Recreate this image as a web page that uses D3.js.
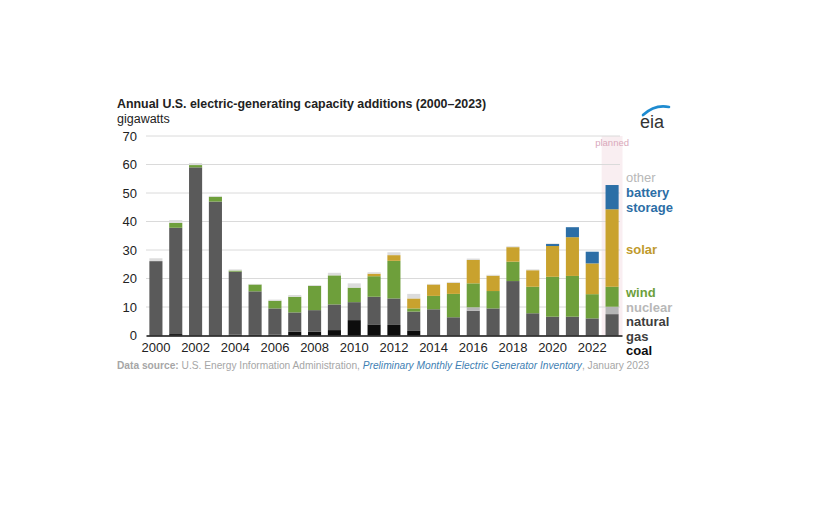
<!DOCTYPE html>
<html>
<head>
<meta charset="utf-8">
<script src="https://cdn.jsdelivr.net/npm/d3@7"></script>
<style>
  body { margin: 0; background: #fff; }
  svg { display: block; font-family: "Liberation Sans", Arial, sans-serif; }
</style>
</head>
<body>
<svg id="chart" width="837" height="531"></svg>
<script>
  // capacity additions by year, gigawatts
  var years = d3.range(2000, 2024);
  var coal    = [0.1, 0.5, 0.1, 0.1, 0.3, 0.2, 0.3, 1.3, 1.4, 1.9, 5.4, 3.9, 3.7, 1.6, 0.1, 0, 0, 0, 0, 0, 0, 0, 0, 0];
  var gas     = [26.0, 37.3, 58.9, 46.9, 22.1, 15.3, 9.2, 6.8, 7.5, 9.0, 6.3, 9.7, 9.3, 6.8, 9.1, 6.4, 8.7, 9.5, 19.1, 7.8, 6.6, 6.6, 6.0, 7.5];
  var nuclear = [0, 0, 0, 0, 0, 0, 0, 0, 0, 0, 0, 0, 0, 0, 0, 0, 1.2, 0, 0, 0, 0, 0, 0, 2.6];
  var wind    = [0, 1.7, 0.8, 1.7, 0.4, 2.4, 2.7, 5.5, 8.5, 10.2, 5.1, 7.2, 13.2, 1.1, 4.7, 8.2, 8.4, 6.1, 6.8, 9.3, 14.0, 14.3, 8.5, 7.0];
  var solar   = [0, 0, 0, 0, 0, 0, 0, 0, 0, 0, 0, 0.9, 2.0, 3.5, 4.0, 3.9, 8.2, 5.4, 5.1, 5.8, 10.8, 13.6, 10.8, 27.2];
  var battery = [0, 0, 0, 0, 0, 0, 0, 0, 0, 0, 0, 0, 0, 0, 0, 0, 0, 0, 0, 0, 0.7, 3.5, 4.1, 8.5];
  var other   = [1.0, 1.0, 0.7, 0.3, 0.4, 0.2, 0.4, 0.6, 0.3, 0.9, 1.5, 0.5, 1.0, 1.6, 0.2, 0.3, 0.5, 0.3, 0.3, 0.3, 0.2, 0, 0, 0];

  var yTicks = [0, 10, 20, 30, 40, 50, 60, 70];
  var yearLabels = d3.range(2000, 2023, 2);

  var keys = ['coal', 'gas', 'nuclear', 'wind', 'solar', 'battery', 'other'];
  var colors = {
    coal: '#0d0d0d',
    gas: '#5a5a5a',
    nuclear: '#b5b5b5',
    wind: '#6e9f3b',
    solar: '#c9a22e',
    battery: '#2c6ea6',
    other: '#dcdcdc'
  };
  var series = { coal: coal, gas: gas, nuclear: nuclear, wind: wind, solar: solar, battery: battery, other: other };

  var rows = years.map(function (yr, i) {
    var r = { year: yr };
    keys.forEach(function (k) { r[k] = series[k][i]; });
    return r;
  });

  var svg = d3.select('#chart');

  var x = d3.scaleBand()
    .domain(years)
    .range([146, 622])
    .paddingInner(0.34)
    .paddingOuter(0.17);

  var y = d3.scaleLinear()
    .domain([0, 70])
    .range([335.5, 136]);

  // planned shading behind 2023
  var last = years[years.length - 1];
  svg.append('rect')
    .attr('x', x(last) - x.step() * 0.17 - 0.5)
    .attr('y', y(70))
    .attr('width', x.step() + 1)
    .attr('height', y(0) - y(70))
    .attr('fill', '#f9eef1');

  svg.append('text')
    .attr('x', x(last) + x.bandwidth() / 2)
    .attr('y', y(70) + 10)
    .attr('text-anchor', 'middle')
    .attr('font-size', 9.5)
    .attr('fill', '#d9a9bb')
    .text('planned');

  // gridlines
  svg.append('g')
    .selectAll('line')
    .data(yTicks.filter(function (d) { return d > 0; }))
    .enter().append('line')
    .attr('x1', 146)
    .attr('x2', 620)
    .attr('y1', function (d) { return y(d); })
    .attr('y2', function (d) { return y(d); })
    .attr('stroke', '#dadada')
    .attr('stroke-width', 1);

  // y axis labels
  var yAxis = d3.axisLeft(y).tickValues(yTicks).tickSize(0).tickPadding(0);
  svg.append('g')
    .attr('transform', 'translate(137,0)')
    .call(yAxis)
    .call(function (g) {
      g.select('.domain').remove();
      g.selectAll('text')
        .attr('font-size', 13)
        .attr('fill', '#222')
        .attr('font-family', '"Liberation Sans", Arial, sans-serif');
    });

  // stacked bars
  var stacked = d3.stack().keys(keys)(rows);

  svg.append('g')
    .selectAll('g')
    .data(stacked)
    .enter().append('g')
    .attr('fill', function (d) { return colors[d.key]; })
    .selectAll('rect')
    .data(function (d) { return d; })
    .enter().append('rect')
    .attr('x', function (d) { return x(d.data.year); })
    .attr('y', function (d) { return y(d[1]); })
    .attr('width', x.bandwidth())
    .attr('height', function (d) { return Math.max(0, y(d[0]) - y(d[1])); });

  // x axis
  var xAxis = d3.axisBottom(x).tickValues(yearLabels).tickSize(0).tickPadding(7);
  svg.append('g')
    .attr('transform', 'translate(0,' + y(0) + ')')
    .call(xAxis)
    .call(function (g) {
      g.select('.domain').attr('stroke', '#111').attr('stroke-width', 1.5);
      g.selectAll('text')
        .attr('font-size', 13)
        .attr('fill', '#222')
        .attr('font-family', '"Liberation Sans", Arial, sans-serif');
    });

  // title
  svg.append('text')
    .attr('x', 117)
    .attr('y', 108)
    .attr('font-size', 12.4)
    .attr('font-weight', 'bold')
    .attr('fill', '#222')
    .text('Annual U.S. electric-generating capacity additions (2000\u20132023)');

  svg.append('text')
    .attr('x', 117)
    .attr('y', 123)
    .attr('font-size', 12.5)
    .attr('fill', '#222')
    .text('gigawatts');

  // direct labels on the right
  var labels = [
    { text: 'other', y: 182, color: '#b8b8b8' },
    { text: 'battery', y: 197, color: '#2c6ea6' },
    { text: 'storage', y: 212, color: '#2c6ea6' },
    { text: 'solar', y: 254, color: '#c09a2c' },
    { text: 'wind', y: 297, color: '#6e9f3b' },
    { text: 'nuclear', y: 311.5, color: '#b8b8b8' },
    { text: 'natural', y: 326, color: '#3d3d3d' },
    { text: 'gas', y: 340.5, color: '#3d3d3d' },
    { text: 'coal', y: 355, color: '#0d0d0d' }
  ];
  svg.append('g')
    .selectAll('text')
    .data(labels)
    .enter().append('text')
    .attr('x', 626)
    .attr('y', function (d) { return d.y; })
    .attr('font-size', 13)
    .attr('font-weight', function (d) { return d.text === 'other' ? 'normal' : 'bold'; })
    .attr('fill', function (d) { return d.color; })
    .text(function (d) { return d.text; });

  // source note
  var src = svg.append('text')
    .attr('x', 117)
    .attr('y', 369)
    .attr('font-size', 10.2)
    .attr('fill', '#a6a6a6');
  src.append('tspan').attr('font-weight', 'bold').text('Data source: ');
  src.append('tspan').text('U.S. Energy Information Administration, ');
  src.append('tspan').attr('font-style', 'italic').attr('fill', '#3f7fb3')
    .text('Preliminary Monthly Electric Generator Inventory');
  src.append('tspan').text(', January 2023');

  // eia logo
  svg.append('path')
    .attr('d', 'M643,115 Q655,104 669,107')
    .attr('fill', 'none')
    .attr('stroke', '#1e8bd0')
    .attr('stroke-width', 2.6)
    .attr('stroke-linecap', 'round');
  svg.append('text')
    .attr('x', 640)
    .attr('y', 128)
    .attr('font-size', 18)
    .attr('fill', '#333')
    .text('eia');
</script>
</body>
</html>
